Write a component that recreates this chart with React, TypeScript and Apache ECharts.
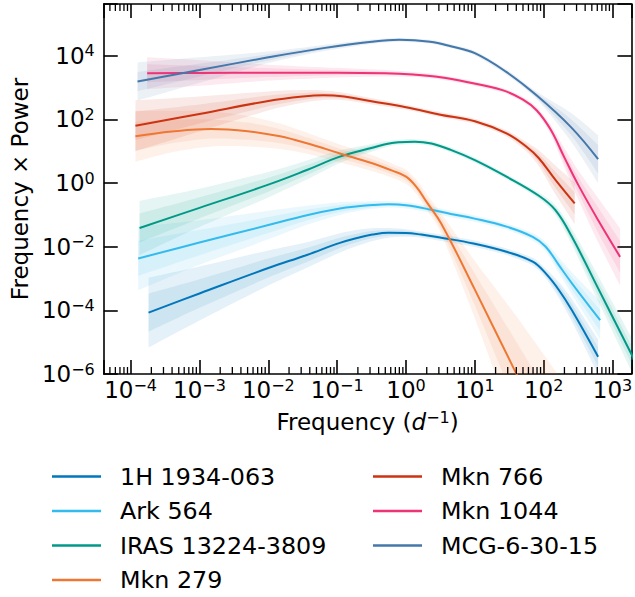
import React, { useEffect, useRef } from 'react';
import * as echarts from 'echarts';

const FONT = 'DejaVu Sans';

// Axis ranges
const X_MIN = 4.07e-5;
const X_MAX = 1880;
const Y_MIN = 1e-6;
const Y_MAX = 4.23e5;

const sourceNames = ['1H 1934-063', 'Ark 564', 'IRAS 13224-3809', 'Mkn 279', 'Mkn 766', 'Mkn 1044', 'MCG-6-30-15'];
const sourceColors = ['#0077BB', '#33BBEE', '#009988', '#EE7733', '#CC3311', '#EE3377', '#4477AA'];

// 1H 1934-063
const freq1H = [1.82e-4, 1e-3, 1e-2, 3.63e-2, 0.1096, 0.2, 0.324, 0.562, 1, 1.66, 3.24, 9.55, 28.8, 69.2, 107, 166, 257, 617];
const power1H = [8.51e-5, 3.39e-4, 2.14e-3, 5.5e-3, 0.0132, 0.0191, 0.024, 0.0272, 0.0269, 0.024, 0.0191, 0.0126, 6.92e-3, 3.39e-3, 1.445e-3, 4.37e-4, 1e-4, 3.47e-6];
const outer1H = [1.1, 0.85, 0.55, 0.4, 0.3, 0.25, 0.2, 0.15, 0.12, 0.1, 0.1, 0.1, 0.1, 0.12, 0.15, 0.25, 0.35, 0.55];
const inner1H = [0.6, 0.45, 0.3, 0.22, 0.16, 0.13, 0.11, 0.08, 0.07, 0.05, 0.05, 0.05, 0.05, 0.06, 0.08, 0.14, 0.2, 0.3];

// Ark 564
const freqArk = [1.288e-4, 1e-3, 1e-2, 3.63e-2, 0.1096, 0.2, 0.324, 0.562, 1, 2.34, 4.47, 9.55, 28.8, 69.2, 107, 166, 257, 661];
const powerArk = [4.27e-3, 0.0135, 0.0479, 0.0977, 0.158, 0.186, 0.204, 0.214, 0.2, 0.145, 0.107, 0.0776, 0.0427, 0.0204, 0.01, 2.63e-3, 7.08e-4, 4.9e-5];
const outerArk = [1.0, 0.7, 0.45, 0.3, 0.2, 0.15, 0.12, 0.1, 0.1, 0.1, 0.1, 0.1, 0.1, 0.12, 0.15, 0.25, 0.35, 0.6];
const innerArk = [0.55, 0.4, 0.25, 0.17, 0.11, 0.09, 0.07, 0.05, 0.05, 0.05, 0.05, 0.05, 0.05, 0.06, 0.08, 0.14, 0.2, 0.33];

// IRAS 13224-3809
const freqIRAS = [1.349e-4, 1e-3, 1e-2, 3.63e-2, 0.1096, 0.324, 0.5, 0.776, 1.349, 2.34, 4.47, 10, 28.8, 85.1, 148, 257, 631, 2239];
const powerIRAS = [0.0389, 0.166, 0.891, 2.57, 6.76, 12.9, 16.6, 19.1, 19.95, 17.4, 11.0, 5.25, 1.585, 0.398, 0.141, 0.0204, 4.47e-4, 2.0e-6];
const outerIRAS = [0.85, 0.6, 0.4, 0.3, 0.2, 0.12, 0.1, 0.08, 0.08, 0.08, 0.08, 0.08, 0.08, 0.1, 0.15, 0.25, 0.4, 0.55];
const innerIRAS = [0.45, 0.33, 0.22, 0.16, 0.11, 0.07, 0.05, 0.04, 0.04, 0.04, 0.04, 0.04, 0.04, 0.05, 0.08, 0.14, 0.22, 0.3];

// Mkn 279
const freq279 = [1.175e-4, 3.98e-4, 1.479e-3, 5.01e-3, 1.479e-2, 3.63e-2, 0.1096, 0.324, 0.631, 1, 1.413, 2.0, 3.24, 10, 39.8, 200];
const power279 = [29.5, 41.7, 50.1, 42.7, 29.5, 17.8, 8.51, 4.17, 2.45, 1.585, 0.759, 0.251, 0.0537, 4.47e-4, 1.05e-6, 1e-9];
const outer279 = [0.8, 0.65, 0.55, 0.48, 0.4, 0.33, 0.28, 0.25, 0.22, 0.22, 0.22, 0.25, 0.32, 0.9, 1.8, 2.7];
const inner279 = [0.45, 0.37, 0.3, 0.27, 0.22, 0.18, 0.15, 0.13, 0.12, 0.12, 0.12, 0.14, 0.18, 0.5, 1.0, 1.5];

// Mkn 766
const freq766 = [1.175e-4, 1e-3, 1e-2, 3.16e-2, 6.31e-2, 0.126, 0.316, 1, 3.16, 10, 28.8, 56.2, 85.1, 148, 282];
const power766 = [63.1, 148, 380, 525, 575, 525, 372, 240, 141, 87.1, 36.3, 13.8, 6.03, 1.259, 0.229];
const outer766 = [0.8, 0.55, 0.3, 0.2, 0.15, 0.12, 0.1, 0.08, 0.08, 0.08, 0.1, 0.15, 0.25, 0.45, 0.65];
const inner766 = [0.45, 0.3, 0.17, 0.11, 0.08, 0.06, 0.05, 0.04, 0.04, 0.04, 0.05, 0.08, 0.14, 0.25, 0.35];

// Mkn 1044
const freq1044 = [1.738e-4, 1e-3, 1e-2, 0.1, 0.501, 1.259, 2.82, 7.94, 25.1, 50.1, 79.4, 126, 200, 316, 631, 1288];
const power1044 = [2818, 2884, 2951, 2951, 2818, 2570, 2188, 1479, 832, 417, 191, 47.9, 6.31, 0.891, 0.0631, 0.00479];
const outer1044 = [0.5, 0.4, 0.25, 0.15, 0.1, 0.08, 0.07, 0.07, 0.07, 0.08, 0.1, 0.15, 0.3, 0.45, 0.7, 0.9];
const inner1044 = [0.28, 0.22, 0.14, 0.08, 0.05, 0.04, 0.04, 0.04, 0.04, 0.04, 0.05, 0.08, 0.17, 0.25, 0.4, 0.5];

// MCG-6-30-15
const freqMCG = [1.259e-4, 1e-3, 1e-2, 6.31e-2, 0.316, 0.794, 2.24, 4.47, 10, 28.2, 79.4, 251, 617];
const powerMCG = [1549, 3548, 8913, 17380, 27540, 31620, 27540, 19950, 12020, 3162, 562, 56.2, 5.62];
const outerMCG = [0.6, 0.4, 0.18, 0.1, 0.07, 0.06, 0.06, 0.06, 0.07, 0.08, 0.12, 0.45, 0.75];
const innerMCG = [0.3, 0.2, 0.1, 0.05, 0.04, 0.03, 0.03, 0.03, 0.04, 0.04, 0.07, 0.25, 0.45];

const sources = [
  { f: freq1H, p: power1H, outer: outer1H, inner: inner1H },
  { f: freqArk, p: powerArk, outer: outerArk, inner: innerArk },
  { f: freqIRAS, p: powerIRAS, outer: outerIRAS, inner: innerIRAS },
  { f: freq279, p: power279, outer: outer279, inner: inner279 },
  { f: freq766, p: power766, outer: outer766, inner: inner766 },
  { f: freq1044, p: power1044, outer: outer1044, inner: inner1044 },
  { f: freqMCG, p: powerMCG, outer: outerMCG, inner: innerMCG },
];

// minor ticks on the frequency axis: 2..9 x 10^k
const minorTicks: number[] = [];
for (let d = -5; d <= 3; d++) {
  for (let m = 2; m <= 9; m++) {
    const v = m * Math.pow(10, d);
    if (v > X_MIN && v < X_MAX) minorTicks.push(v);
  }
}

const LABEL_SIZE = 23;
const LEGEND_SIZE = 23.8;
const SUP_SIZE = 16;

const expRich = {
  b: { fontSize: LABEL_SIZE, fontFamily: FONT, color: '#000', lineHeight: 26 },
  s: { fontSize: SUP_SIZE, fontFamily: FONT, color: '#000', lineHeight: 16, verticalAlign: 'top' },
};

function expLabel(v: number): string {
  const l = Math.log10(v);
  const e = Math.round(l);
  if (Math.abs(l - e) > 1e-3) return '';
  return `{b|10}{s|${e < 0 ? '\u2212' + -e : String(e)}}`;
}

function rgba(hex: string, a: number): string {
  const n = parseInt(hex.slice(1), 16);
  return `rgba(${(n >> 16) & 255},${(n >> 8) & 255},${n & 255},${a})`;
}

// smooth pixel-space edge through points (Catmull-Rom -> cubic bezier)
function edgePath(pts: number[][], start: boolean): string {
  let d = start ? `M${pts[0][0]},${pts[0][1]}` : `L${pts[0][0]},${pts[0][1]}`;
  const t = 0.8;
  for (let i = 0; i < pts.length - 1; i++) {
    const p0 = pts[i - 1] || pts[i];
    const p1 = pts[i];
    const p2 = pts[i + 1];
    const p3 = pts[i + 2] || pts[i + 1];
    const c1x = p1[0] + ((p2[0] - p0[0]) / 6) * t;
    const c1y = p1[1] + ((p2[1] - p0[1]) / 6) * t;
    const c2x = p2[0] - ((p3[0] - p1[0]) / 6) * t;
    const c2y = p2[1] - ((p3[1] - p1[1]) / 6) * t;
    d += ` C${c1x},${c1y} ${c2x},${c2y} ${p2[0]},${p2[1]}`;
  }
  return d;
}

const spine = { show: true, onZero: false, lineStyle: { color: '#000', width: 1.6 } };
const majorTick = { show: true, inside: true, length: 14, lineStyle: { color: '#000', width: 1.6 } };

function buildOption() {
  const series: any[] = [];
  sources.forEach((s, k) => {
    const color = sourceColors[k];
    [s.outer, s.inner].forEach((w, j) => {
      series.push({
        type: 'custom', name: `band-${k}-${j}`, silent: true, clip: true, z: 1,
        data: [[s.f[0], s.p[0]]],
        encode: { x: 0, y: 1 },
        renderItem: (params: any, api: any) => {
          const up = s.f.map((x, i) => api.coord([x, s.p[i] * Math.pow(10, w[i])]));
          const lo = s.f.map((x, i) => api.coord([x, s.p[i] / Math.pow(10, w[i])])).reverse();
          const pathData = edgePath(up, true) + ' ' + edgePath(lo, false) + ' Z';
          return {
            type: 'path',
            shape: { pathData },
            style: { fill: rgba(color, 0.1), stroke: 'none' },
          };
        },
      });
    });
  });
  sources.forEach((s, k) => {
    series.push({
      type: 'line', name: sourceNames[k], data: s.f.map((x, i) => [x, s.p[i]]),
      symbol: 'none', smooth: 0.4, clip: true,
      lineStyle: { color: sourceColors[k], width: 2 }, itemStyle: { color: sourceColors[k] }, z: 3,
    });
  });
  series.push({
    type: 'custom', name: 'minor-ticks', silent: true, z: 10, clip: false,
    data: minorTicks.map((v) => [v, Y_MIN]),
    encode: { x: 0, y: 1 },
    renderItem: (params: any, api: any) => {
      const x = api.coord([api.value(0), api.value(1)])[0];
      const cs = params.coordSys;
      const bottom = cs.y + cs.height;
      const top = cs.y;
      return {
        type: 'group',
        children: [
          { type: 'line', shape: { x1: x, y1: bottom, x2: x, y2: bottom - 7 }, style: { stroke: '#000', lineWidth: 1.3 } },
          { type: 'line', shape: { x1: x, y1: top, x2: x, y2: top + 7 }, style: { stroke: '#000', lineWidth: 1.3 } },
        ],
      };
    },
  });

  const legendCommon = {
    orient: 'vertical', icon: 'rect', itemWidth: 49, itemHeight: 2.5, itemGap: 10.5, padding: 0,
    selectedMode: false, height: 160,
    textStyle: { fontSize: LEGEND_SIZE, fontFamily: FONT, color: '#000', padding: [0, 0, 0, 14] },
  };

  return {
    animation: false,
    backgroundColor: '#ffffff',
    grid: { left: 96, top: 4, width: 538, height: 370, containLabel: false },
    legend: [
      { ...legendCommon, data: sourceNames.slice(0, 4), left: 52, top: 464.5 },
      { ...legendCommon, data: sourceNames.slice(4), left: 373, top: 464.5 },
    ],
    xAxis: [
      {
        type: 'log', logBase: 10, min: X_MIN, max: X_MAX, position: 'bottom',
        axisLine: spine, axisTick: majorTick, splitLine: { show: false },
        axisLabel: { formatter: expLabel, margin: 3, rich: expRich, color: '#000' },
        name: '{a|Frequency (}{i|d}{s|\u22121}{a|)}',
        nameLocation: 'middle', nameGap: 35,
        nameTextStyle: {
          rich: {
            a: { fontSize: LABEL_SIZE, fontFamily: FONT, color: '#000', lineHeight: 26 },
            i: { fontSize: LABEL_SIZE, fontFamily: FONT, fontStyle: 'italic', color: '#000', lineHeight: 26 },
            s: { fontSize: SUP_SIZE, fontFamily: FONT, color: '#000', lineHeight: 16, verticalAlign: 'top' },
          },
        },
      },
      {
        type: 'log', logBase: 10, min: X_MIN, max: X_MAX, position: 'top',
        axisLine: spine, axisTick: majorTick, splitLine: { show: false }, axisLabel: { show: false },
      },
    ],
    yAxis: [
      {
        type: 'log', logBase: 10, min: Y_MIN, max: Y_MAX, interval: 2, position: 'left',
        axisLine: spine, axisTick: majorTick, splitLine: { show: false },
        axisLabel: { formatter: expLabel, margin: 9, rich: expRich, color: '#000' },
        name: 'Frequency \u00d7 Power', nameLocation: 'middle', nameGap: 70,
        nameTextStyle: { fontSize: LABEL_SIZE, fontFamily: FONT, color: '#000' },
      },
      {
        type: 'log', logBase: 10, min: Y_MIN, max: Y_MAX, interval: 2, position: 'right',
        axisLine: spine, axisTick: majorTick, splitLine: { show: false }, axisLabel: { show: false },
      },
    ],
    series,
  };
}

export default function App() {
  const ref = useRef<HTMLDivElement>(null);
  useEffect(() => {
    if (!ref.current) return;
    const chart = echarts.init(ref.current, undefined, { renderer: 'svg' });
    chart.setOption(buildOption() as any);
    return () => chart.dispose();
  }, []);
  return (
    <div
      ref={ref}
      style={{ position: 'absolute', left: 0, top: 0, width: 635, height: 597, background: '#fff' }}
    />
  );
}
